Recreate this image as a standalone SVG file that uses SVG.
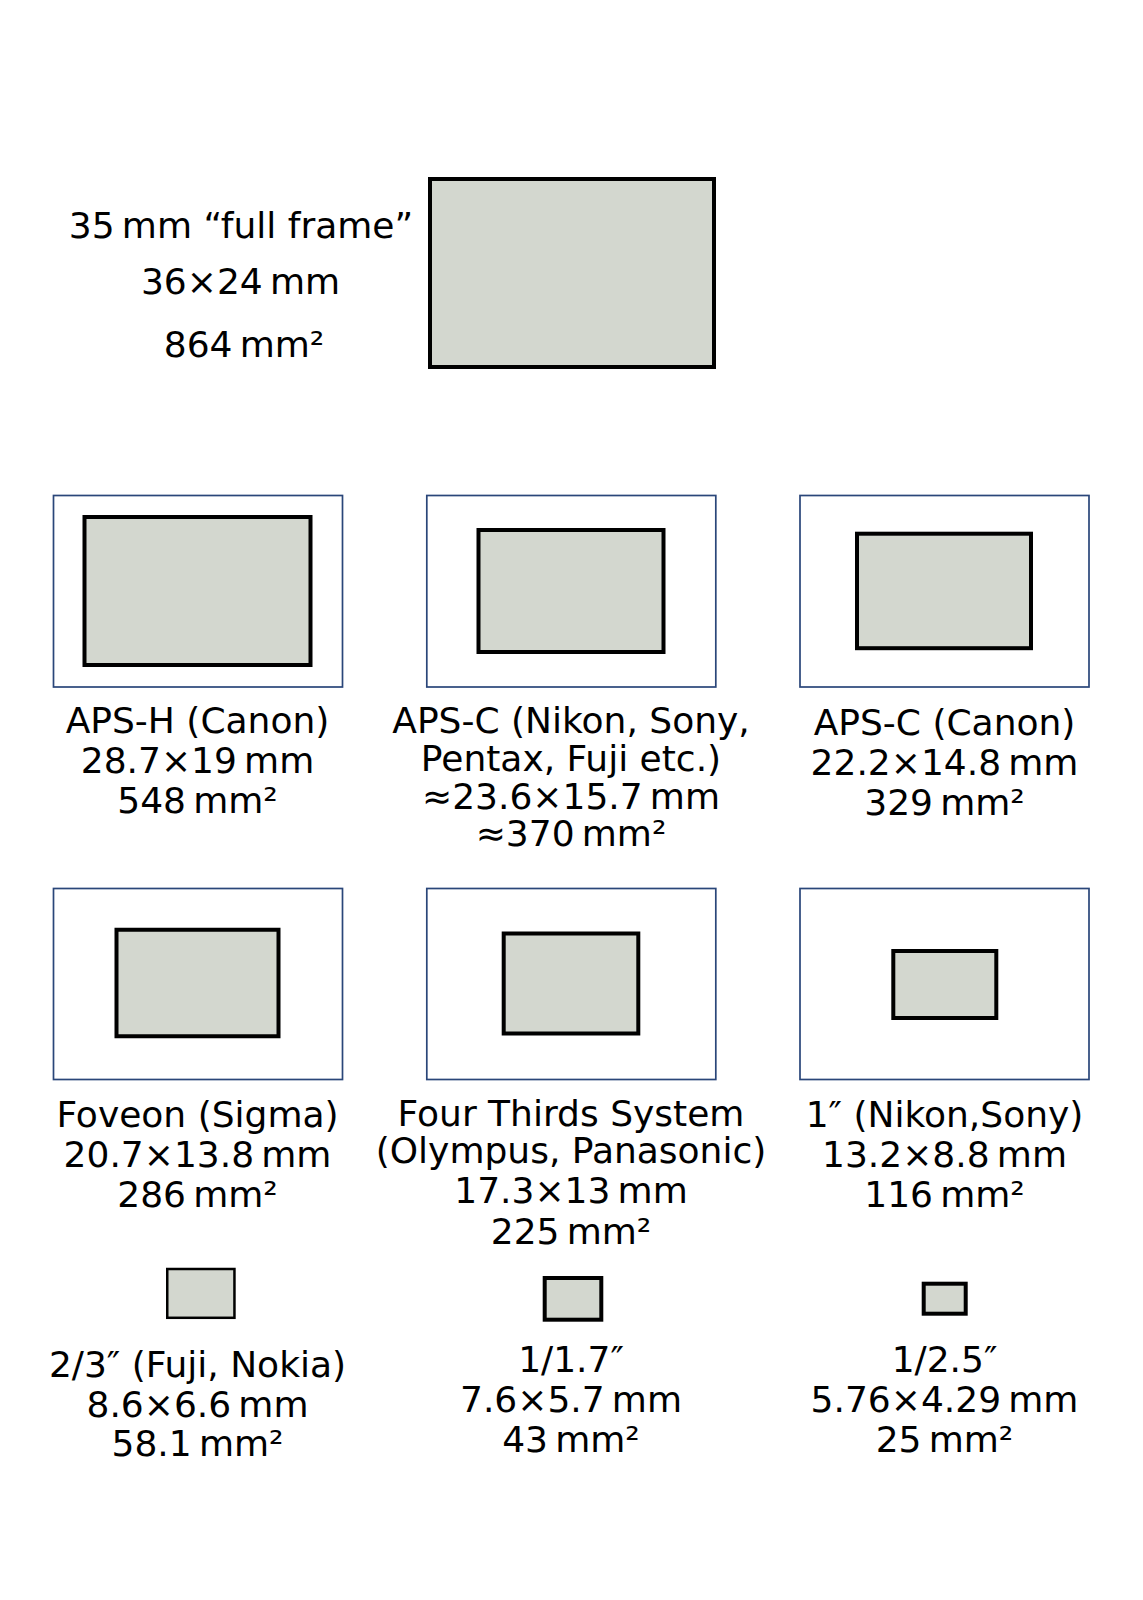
<svg xmlns="http://www.w3.org/2000/svg" width="1143" height="1600" viewBox="0 0 1143 1600">
<style>
.t{font-family:"DejaVu Sans",Verdana,sans-serif;font-size:36px;fill:#000;text-anchor:middle}
.s{fill:#d3d7cf;stroke:#000;stroke-width:4}
.f{fill:#fff;stroke:#2a4679;stroke-width:1.7}
</style>
<rect width="1143" height="1600" fill="#fff"/>
<g id="full-frame">
<rect class="s" x="430" y="179" width="284" height="188"/>
<text class="t" x="241" y="238">35&#8201;mm “full frame”</text>
<text class="t" x="240.5" y="294">36×24&#8201;mm</text>
<text class="t" x="244" y="357">864&#8201;mm²</text>
</g>
<g id="aps-h">
<rect class="f" x="53.5" y="495.5" width="289" height="191.5"/>
<rect class="s" x="84.5" y="517" width="226" height="148"/>
<text class="t" x="197.5" y="733">APS-H (Canon)</text>
<text class="t" x="197.5" y="773">28.7×19&#8201;mm</text>
<text class="t" x="197.5" y="813">548&#8201;mm²</text>
</g>
<g id="aps-c-nikon">
<rect class="f" x="426.8" y="495.5" width="289" height="191.5"/>
<rect class="s" x="478.5" y="530" width="185" height="122"/>
<text class="t" x="571" y="733">APS-C (Nikon, Sony,</text>
<text class="t" x="571" y="771">Pentax, Fuji etc.)</text>
<text class="t" x="571" y="809">≈23.6×15.7&#8201;mm</text>
<text class="t" x="571" y="846">≈370&#8201;mm²</text>
</g>
<g id="aps-c-canon">
<rect class="f" x="800" y="495.5" width="289" height="191.5"/>
<rect class="s" x="857" y="533.7" width="174" height="114.5"/>
<text class="t" x="944.5" y="735">APS-C (Canon)</text>
<text class="t" x="944.5" y="775">22.2×14.8&#8201;mm</text>
<text class="t" x="944.5" y="815">329&#8201;mm²</text>
</g>
<g id="foveon">
<rect class="f" x="53.5" y="888.5" width="289" height="191"/>
<rect class="s" x="116.5" y="929.75" width="162" height="106.5"/>
<text class="t" x="197.5" y="1127">Foveon (Sigma)</text>
<text class="t" x="197.5" y="1167">20.7×13.8&#8201;mm</text>
<text class="t" x="197.5" y="1207">286&#8201;mm²</text>
</g>
<g id="four-thirds">
<rect class="f" x="426.8" y="888.5" width="289" height="191"/>
<rect class="s" x="503.7" y="933.5" width="134.6" height="100"/>
<text class="t" x="571" y="1126">Four Thirds System</text>
<text class="t" x="571" y="1163">(Olympus, Panasonic)</text>
<text class="t" x="571" y="1203">17.3×13&#8201;mm</text>
<text class="t" x="571" y="1244">225&#8201;mm²</text>
</g>
<g id="one-inch">
<rect class="f" x="800" y="888.5" width="289" height="191"/>
<rect class="s" x="893.3" y="951" width="103" height="67"/>
<text class="t" x="944.5" y="1127">1″ (Nikon,Sony)</text>
<text class="t" x="944.5" y="1167">13.2×8.8&#8201;mm</text>
<text class="t" x="944.5" y="1207">116&#8201;mm²</text>
</g>
<g id="two-thirds">
<rect class="s" x="167.25" y="1269" width="67.2" height="48.8" style="stroke-width:2.5"/>
<text class="t" x="197.5" y="1377">2/3″ (Fuji, Nokia)</text>
<text class="t" x="197.5" y="1417">8.6×6.6&#8201;mm</text>
<text class="t" x="197.5" y="1456">58.1&#8201;mm²</text>
</g>
<g id="one-over-1-7">
<rect class="s" x="544.7" y="1278" width="56.6" height="41.7"/>
<text class="t" x="571" y="1372">1/1.7″</text>
<text class="t" x="571" y="1412">7.6×5.7&#8201;mm</text>
<text class="t" x="571" y="1452">43&#8201;mm²</text>
</g>
<g id="one-over-2-5">
<rect class="s" x="923.7" y="1283.7" width="42" height="30"/>
<text class="t" x="944.5" y="1372">1/2.5″</text>
<text class="t" x="944.5" y="1412">5.76×4.29&#8201;mm</text>
<text class="t" x="944.5" y="1452">25&#8201;mm²</text>
</g>
<g id="connectors"></g>
</svg>
